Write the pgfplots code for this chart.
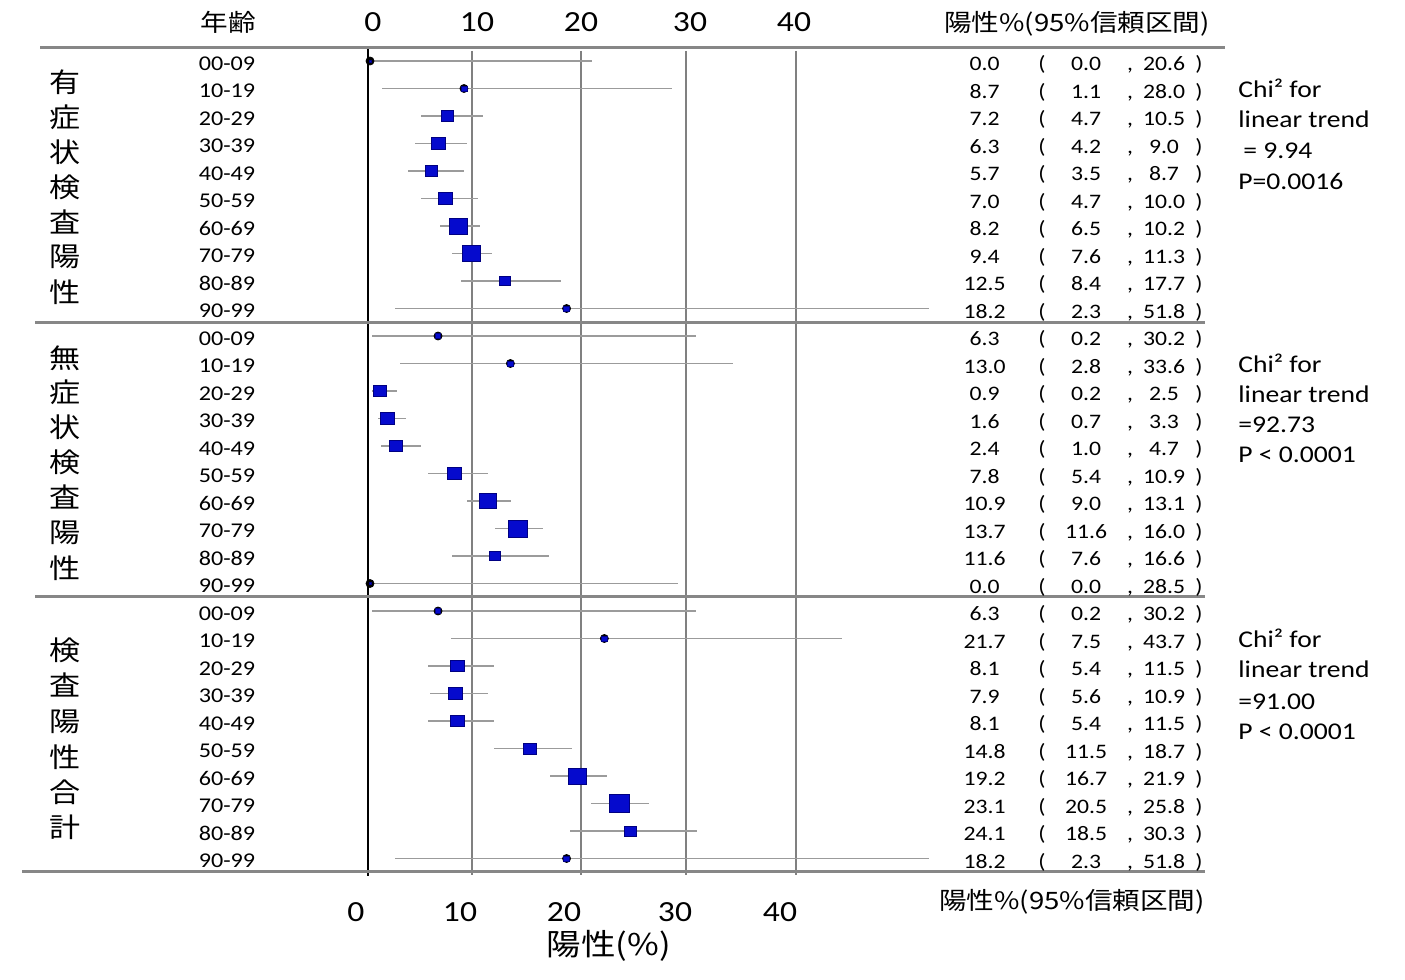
\documentclass[border=0pt]{standalone}
\usepackage{pgfplots}
\pgfplotsset{compat=1.18}
\usepackage{pgfplotstable}
\usepackage{fontspec}
\setmainfont{Carlito}[FakeStretch=1.15]
\newfontfamily\cjk{Noto Sans CJK JP}[FakeStretch=1.15]

\definecolor{mfill}{RGB}{5,10,205}
\definecolor{mdraw}{RGB}{0,0,130}
\definecolor{cigray}{RGB}{155,155,155}
\definecolor{gridgray}{RGB}{128,128,128}
\definecolor{sepgray}{RGB}{135,135,135}

% row est lo hi marker-size
\pgfplotstableread{
row est lo hi ms
0 0.0 0.0 20.6 0.45
1 8.7 1.1 28.0 1.3
2 7.2 4.7 10.5 2.6
3 6.3 4.2 9.0 3.0
4 5.7 3.5 8.7 2.7
5 7.0 4.7 10.0 3.0
6 8.2 6.5 10.2 4.0
7 9.4 7.6 11.3 4.0
8 12.5 8.4 17.7 2.35
9 18.2 2.3 51.8 1.3
10 6.3 0.2 30.2 1.2
11 13.0 2.8 33.6 1.2
12 0.9 0.2 2.5 2.8
13 1.6 0.7 3.3 3.0
14 2.4 1.0 4.7 2.8
15 7.8 5.4 10.9 2.9
16 10.9 9.0 13.1 3.8
17 13.7 11.6 16.0 4.2
18 11.6 7.6 16.6 2.35
19 0.0 0.0 28.5 0.45
20 6.3 0.2 30.2 1.15
21 21.7 7.5 43.7 1.2
22 8.1 5.4 11.5 2.9
23 7.9 5.6 10.9 3.0
24 8.1 5.4 11.5 2.9
25 14.8 11.5 18.7 2.8
26 19.2 16.7 21.9 4.0
27 23.1 20.5 25.8 4.35
28 24.1 18.5 30.3 2.45
29 18.2 2.3 51.8 1.2
}\data

\pgfplotsset{tabtext/.style={only marks, mark=none,
  every node near coord/.append style={anchor=base, yshift=-4.75pt,
    font=\fontsize{10.3}{12}\selectfont, text=black, inner sep=0pt}}}

\begin{document}
\begin{tikzpicture}
\useasboundingbox (0,0) rectangle (702.5pt,490pt);
\begin{scope}[x=0.5pt,y=-0.5pt,yshift=490pt]
  \foreach \gx in {472,581,686,796} \draw[gridgray, line width=1pt] (\gx,51) -- (\gx,875);
  \draw[black, line width=1.25pt] (368,49) -- (368,876);
  \draw[sepgray, line width=1.5pt] (40,48) -- (1225,48);
  \draw[sepgray, line width=1.5pt] (35,323) -- (1205,323);
  \draw[sepgray, line width=1.5pt] (35,597) -- (1205,597);
  \draw[sepgray, line width=1.5pt] (22,872) -- (1205,872);
\end{scope}

\begin{axis}[at={(0,0)}, anchor=south west, scale only axis,
  width=702.5pt, height=490pt,
  xmin=-34.2593, xmax=95.8333, ymin=-2.2182, ymax=33.4182,
  y dir=reverse, hide axis, clip=false]
  % confidence intervals
  \addplot[only marks, mark=none,
    error bars/.cd, x dir=both, x explicit, error mark=none,
    error bar style={draw=cigray, line width=0.8pt}]
    table[x=est, y=row,
      x error plus expr=\thisrow{hi}-\thisrow{est},
      x error minus expr=\thisrow{est}-\thisrow{lo}] {\data};
  % point estimates
  \addplot[scatter, only marks, mark=square*,
    scatter/use mapped color={draw=mdraw, fill=mfill},
    mark options={xscale=1.15, line width=0.4pt},
    visualization depends on={\thisrow{ms} \as \msz},
    scatter/@pre marker code/.append style={/tikz/mark size=\msz}]
    table[x=est, y=row] {\data};
  % text columns
  \addplot[tabtext, point meta=\thisrow{est},
    nodes near coords={\pgfmathprintnumber[fixed,fixed zerofill,precision=1,assume math mode=true]{\pgfplotspointmeta}}]
    table[x expr=56.90, y=row] {\data};
  \addplot[tabtext, point meta=\thisrow{lo},
    nodes near coords={\pgfmathprintnumber[fixed,fixed zerofill,precision=1,assume math mode=true]{\pgfplotspointmeta}}]
    table[x expr=66.30, y=row] {\data};
  \addplot[tabtext, point meta=\thisrow{hi},
    nodes near coords={\pgfmathprintnumber[fixed,fixed zerofill,precision=1,assume math mode=true]{\pgfplotspointmeta}}]
    table[x expr=73.52, y=row] {\data};
  \addplot[tabtext, nodes near coords={(}] table[x expr=62.22, y=row] {\data};
  \addplot[tabtext, nodes near coords={{,}}] table[x expr=70.37, y=row] {\data};
  \addplot[tabtext, nodes near coords={)}] table[x expr=76.76, y=row] {\data};
\end{axis}

\begin{scope}[x=0.5pt,y=-0.5pt,yshift=490pt]
  % age labels
  \foreach \p in {0,10,20}{
    \foreach \i in {0,...,9}{
      \node[anchor=base, font=\fontsize{10.5}{12}\selectfont, inner sep=0pt]
        at (227,{70.5+27.5*(\p+\i)}) {\i0-\i9};
    }
  }
  % group labels
  \tikzset{grp/.style={font=\cjk\fontsize{13.5}{14}\selectfont, inner sep=0pt}}
  \foreach \ch/\yy in {有/82,症/117,状/152,検/187,査/222,陽/257,性/292}
    \node[grp] at (65,\yy) {\ch};
  \foreach \ch/\yy in {無/358,症/392,状/427,検/462,査/497,陽/533,性/568}
    \node[grp] at (65,\yy) {\ch};
  \foreach \ch/\yy in {検/650,査/685,陽/722,性/757,合/792,計/827}
    \node[grp] at (65,\yy) {\ch};
  % headers
  \node[font=\cjk\fontsize{12}{14}\selectfont, inner sep=0pt] at (228,22) {年齢};
  \node[font=\cjk\fontsize{12}{14}\selectfont, inner sep=0pt] at (1077,24) {陽性\%(95\%信頼区間)};
  \node[font=\cjk\fontsize{12}{14}\selectfont, inner sep=0pt] at (1072,902) {陽性\%(95\%信頼区間)};
  \node[font=\cjk\fontsize{15}{17}\selectfont, inner sep=0pt] at (609,946) {陽性(\%)};
  % tick labels
  \foreach \xx/\t in {373/0,477/10,581/20,690/30,794/40}
    \node[font=\fontsize{14.6}{16}\selectfont, inner sep=0pt] at (\xx,22.5) {\t};
  \foreach \xx/\t in {356/0,460/10,564/20,675/30,780/40}
    \node[font=\fontsize{14.6}{16}\selectfont, inner sep=0pt] at (\xx,912) {\t};
  % trend tests
  \tikzset{chi/.style={anchor=base west, font=\fontsize{12}{14}\selectfont, inner sep=0pt}}
  \node[chi] at (1238,98) {Chi² for};
  \node[chi] at (1238,128) {linear trend};
  \node[chi] at (1243,159) {= 9.94};
  \node[chi] at (1238,190) {P=0.0016};
  \node[chi] at (1238,373) {Chi² for};
  \node[chi] at (1238,403) {linear trend};
  \node[chi] at (1238,433) {=92.73};
  \node[chi] at (1238,463) {P < 0.0001};
  \node[chi] at (1238,648) {Chi² for};
  \node[chi] at (1238,678) {linear trend};
  \node[chi] at (1238,710) {=91.00};
  \node[chi] at (1238,740) {P < 0.0001};
\end{scope}
\end{tikzpicture}
\end{document}
